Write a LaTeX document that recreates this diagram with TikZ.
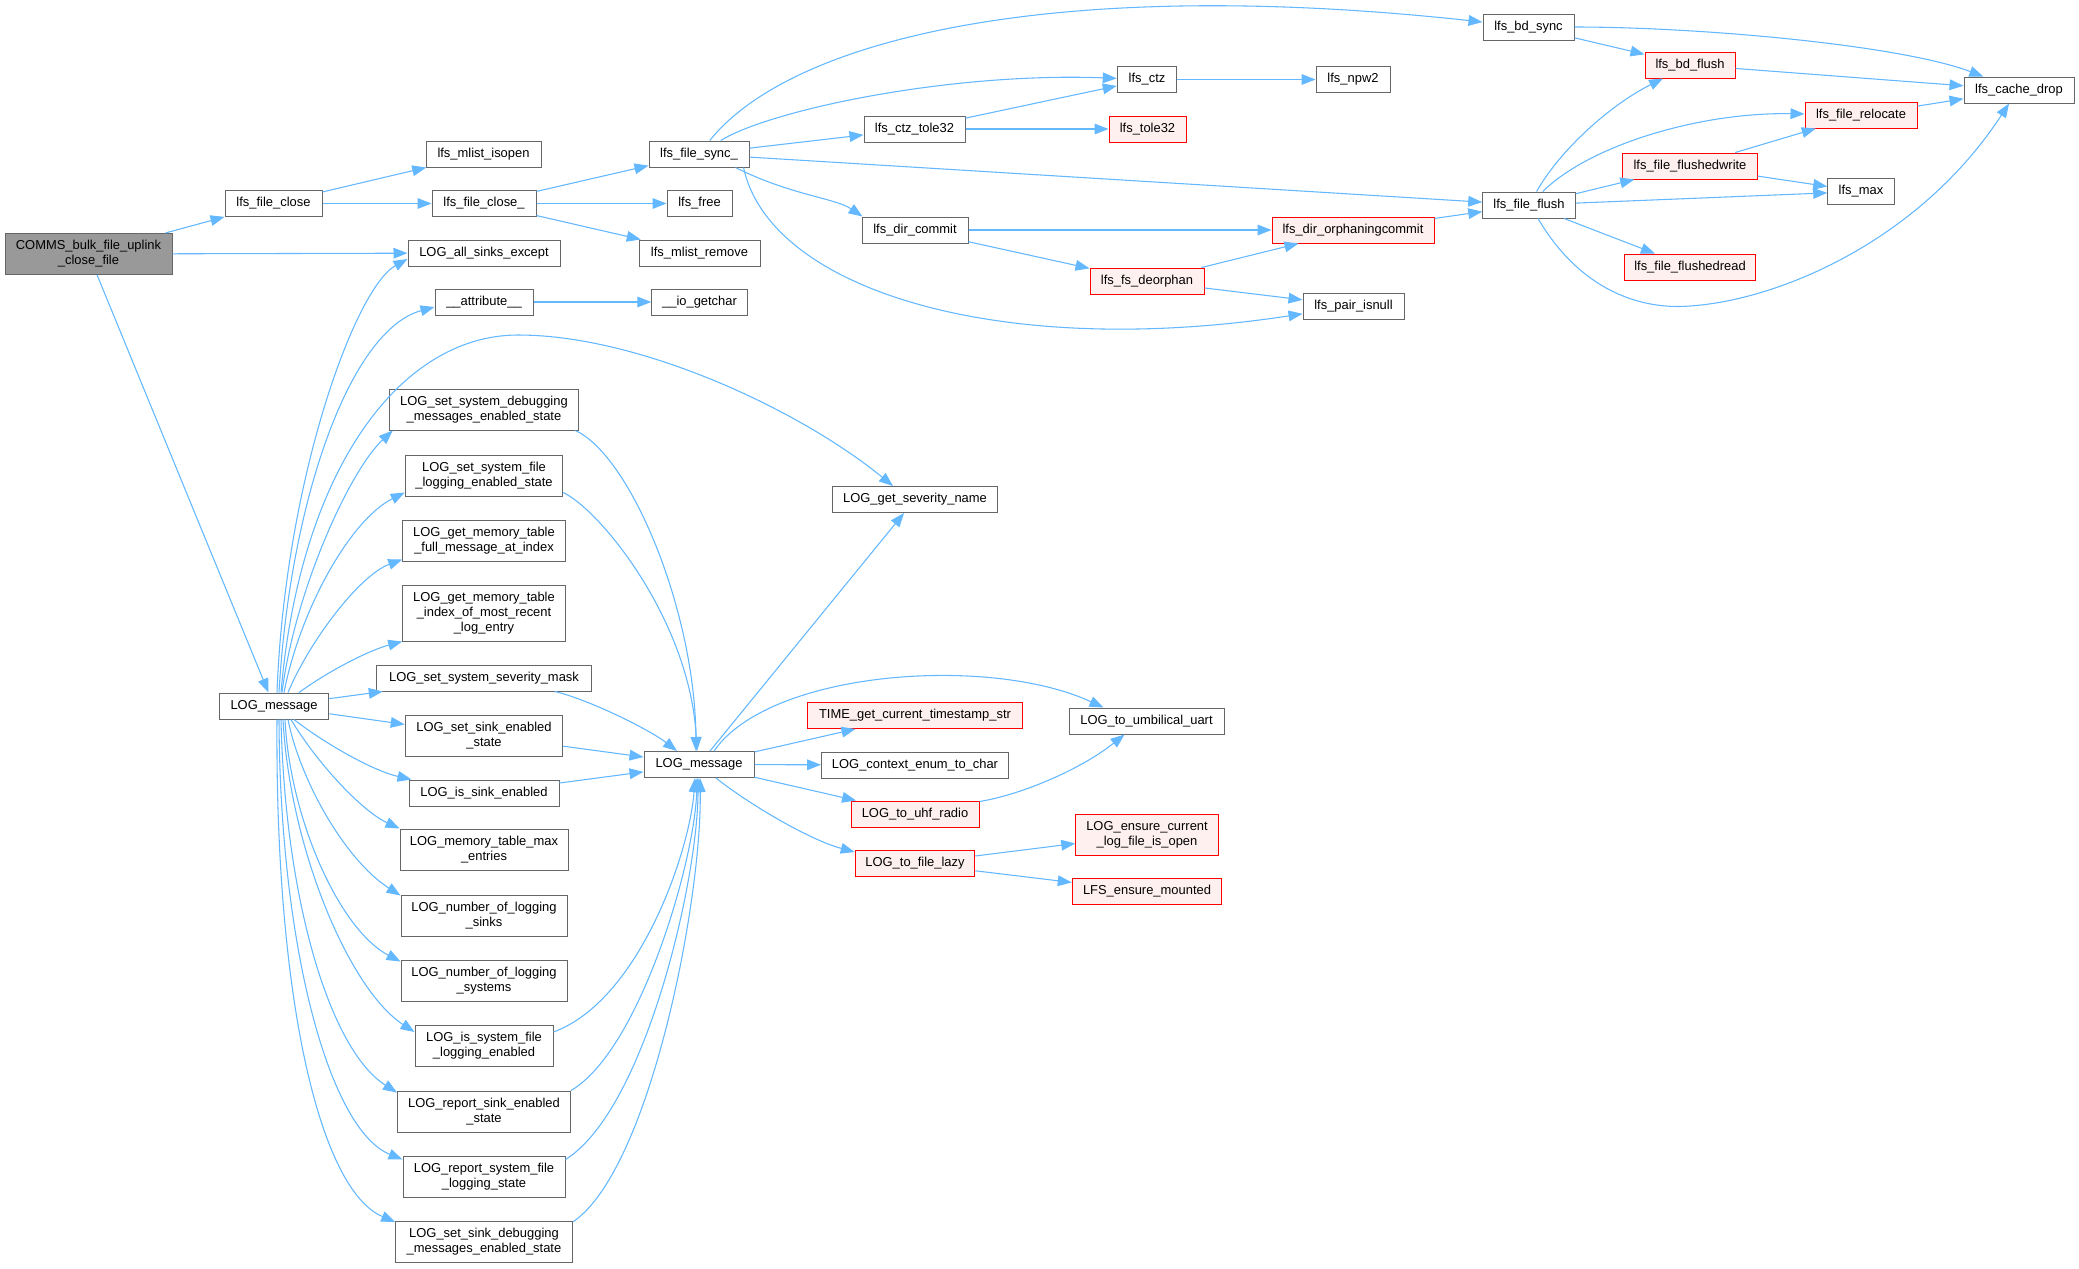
\documentclass[tikz,border=0pt]{standalone}
\usepackage{fontspec}
\setmainfont{Liberation Sans}
\usetikzlibrary{arrows.meta}
\definecolor{edgec}{HTML}{63B8FF}
\definecolor{bordc}{HTML}{666666}
\definecolor{redb}{HTML}{FF0000}
\definecolor{redf}{HTML}{FFF0F0}
\definecolor{rootf}{HTML}{999999}
\begin{document}
\begin{tikzpicture}[x=0.75pt,y=-0.75pt,
  nb/.style={draw=bordc, fill=white, line width=0.75pt, inner sep=0pt, minimum height=19.5pt,
             font=\fontsize{9.7pt}{11.25pt}\selectfont, align=center},
  rn/.style={nb, draw=redb, fill=redf},
  root/.style={nb, fill=rootf},
  wd/.style={minimum width=#1*0.75pt},
  two/.style={minimum height=30.75pt},
  three/.style={minimum height=42pt},
  e/.style={draw=edgec, line width=0.8pt, -{Triangle[length=10.5pt,width=8pt]}},
]
\useasboundingbox (0,0) rectangle (2079,1268);
\fill[white] (0,0) rectangle (2079,1268);

% ---------- nodes ----------
\node[root, wd=167, two] (comms) at (88.5,254) {COMMS\_bulk\_file\_uplink\\\_close\_file};
\node[nb, wd=97] (fclose) at (273.5,203.5) {lfs\_file\_close};
\node[nb, wd=115] (isopen) at (483.5,154) {lfs\_mlist\_isopen};
\node[nb, wd=104] (fcloseu) at (484,203.5) {lfs\_file\_close\_};
\node[nb, wd=152] (allsinks) at (484,253) {LOG\_all\_sinks\_except};
\node[nb, wd=98] (attr) at (484,302) {\_\_attribute\_\_};
\node[nb, wd=100] (sync) at (699,154) {lfs\_file\_sync\_};
\node[nb, wd=65] (free) at (699.5,203.5) {lfs\_free};
\node[nb, wd=121] (mremove) at (699.5,253) {lfs\_mlist\_remove};
\node[nb, wd=95.5] (iogetchar) at (699.5,302) {\_\_io\_getchar};
\node[nb, wd=59.5] (ctz) at (1147,79.5) {lfs\_ctz};
\node[nb, wd=74] (npw2) at (1353,79.5) {lfs\_npw2};
\node[nb, wd=101] (ctztole) at (914.5,129) {lfs\_ctz\_tole32};
\node[rn, wd=77] (tole32) at (1147.5,129) {lfs\_tole32};
\node[nb, wd=106] (dircommit) at (915,230) {lfs\_dir\_commit};
\node[rn, wd=162] (orphan) at (1353,230) {lfs\_dir\_orphaningcommit};
\node[rn, wd=114] (deorphan) at (1147,281) {lfs\_fs\_deorphan};
\node[nb, wd=101] (pairnull) at (1353.5,306) {lfs\_pair\_isnull};
\node[nb, wd=91] (bdsync) at (1528.5,27) {lfs\_bd\_sync};
\node[rn, wd=90] (bdflush) at (1690,65) {lfs\_bd\_flush};
\node[nb, wd=110] (cachedrop) at (2019,90) {lfs\_cache\_drop};
\node[rn, wd=112] (relocate) at (1861,115) {lfs\_file\_relocate};
\node[rn, wd=134.5] (fwrite) at (1690,166) {lfs\_file\_flushedwrite};
\node[nb, wd=66.5] (lmax) at (1861,191.5) {lfs\_max};
\node[nb, wd=92.5] (fflush) at (1529,205) {lfs\_file\_flush};
\node[rn, wd=131.5] (fread) at (1690,267) {lfs\_file\_flushedread};

\node[nb, wd=109.5] (logA) at (274,706) {LOG\_message};
\node[nb, wd=189.5, two] (ssdebug) at (484,409.5) {LOG\_set\_system\_debugging\\\_messages\_enabled\_state};
\node[nb, wd=157.5, two] (ssfile) at (484,475.5) {LOG\_set\_system\_file\\\_logging\_enabled\_state};
\node[nb, wd=162.5, two] (memfull) at (484,540.5) {LOG\_get\_memory\_table\\\_full\_message\_at\_index};
\node[nb, wd=162.5, three] (memidx) at (484,613) {LOG\_get\_memory\_table\\\_index\_of\_most\_recent\\\_log\_entry};
\node[nb, wd=215] (sevmask) at (484,678) {LOG\_set\_system\_severity\_mask};
\node[nb, wd=157.5, two] (sinken) at (484,735.5) {LOG\_set\_sink\_enabled\\\_state};
\node[nb, wd=150] (issink) at (484,793) {LOG\_is\_sink\_enabled};
\node[nb, wd=168, two] (memmax) at (484,849.5) {LOG\_memory\_table\_max\\\_entries};
\node[nb, wd=166, two] (nsinks) at (484,915.5) {LOG\_number\_of\_logging\\\_sinks};
\node[nb, wd=166, two] (nsystems) at (484,980.5) {LOG\_number\_of\_logging\\\_systems};
\node[nb, wd=138, two] (issysfile) at (484,1046) {LOG\_is\_system\_file\\\_logging\_enabled};
\node[nb, wd=173, two] (repsink) at (484,1111.5) {LOG\_report\_sink\_enabled\\\_state};
\node[nb, wd=162, two] (repsysfile) at (484,1176.5) {LOG\_report\_system\_file\\\_logging\_state};
\node[nb, wd=176.5, two] (sinkdebug) at (484,1242) {LOG\_set\_sink\_debugging\\\_messages\_enabled\_state};

\node[nb, wd=110] (logB) at (699,764.5) {LOG\_message};
\node[nb, wd=165.5] (sevname) at (915,499.5) {LOG\_get\_severity\_name};
\node[rn, wd=215] (timestr) at (915,715.5) {TIME\_get\_current\_timestamp\_str};
\node[nb, wd=155] (umbil) at (1146.5,721) {LOG\_to\_umbilical\_uart};
\node[nb, wd=187] (context) at (915,765) {LOG\_context\_enum\_to\_char};
\node[rn, wd=128] (uhf) at (915,814) {LOG\_to\_uhf\_radio};
\node[rn, wd=142.5, two] (ensure) at (1147,834.5) {LOG\_ensure\_current\\\_log\_file\_is\_open};
\node[rn, wd=119.5] (lazy) at (915,863.5) {LOG\_to\_file\_lazy};
\node[rn, wd=149.5] (mounted) at (1147,891.5) {LFS\_ensure\_mounted};

% ---------- straight edges ----------
\draw[e] (comms) -- (fclose);
\draw[e] (comms) -- (allsinks);
\draw[e] (comms) -- (logA);
\draw[e] (fclose) -- (isopen);
\draw[e] (fclose) -- (fcloseu);
\draw[e] (fcloseu) -- (sync);
\draw[e] (fcloseu) -- (free);
\draw[e] (fcloseu) -- (mremove);
\draw[e] (sync) -- (ctztole);
\draw[e] (sync) -- (fflush);
\draw[e] (ctz) -- (npw2);
\draw[e] (ctztole) -- (ctz);
\draw[e] (ctztole) -- (tole32);
\draw[e] (dircommit) -- (orphan);
\draw[e] (dircommit) -- (deorphan);
\draw[e] (deorphan) -- (orphan);
\draw[e] (deorphan) -- (pairnull);
\draw[e] (orphan) -- (fflush);
\draw[e] (bdsync) -- (bdflush);
\draw[e] (bdflush) -- (cachedrop);
\draw[e] (fflush) -- (fwrite);
\draw[e] (fflush) -- (lmax);
\draw[e] (fflush) -- (fread);
\draw[e] (relocate) -- (cachedrop);
\draw[e] (fwrite) -- (relocate);
\draw[e] (fwrite) -- (lmax);
\draw[e] (attr) -- (iogetchar);
\draw[e] (logA) -- (sevmask);
\draw[e] (logA) -- (sinken);
\draw[e] (sinken) -- (logB);
\draw[e] (issink) -- (logB);
\draw[e] (logB) -- (sevname);
\draw[e] (logB) -- (timestr);
\draw[e] (logB) -- (context);
\draw[e] (logB) -- (uhf);
\draw[e] (lazy) -- (ensure);
\draw[e] (lazy) -- (mounted);

% ---------- curved edges (top) ----------
\draw[e] (sync) .. controls (790,40) and (1050,-25) .. (bdsync);
\draw[e] (sync) .. controls (770,110) and (950,72) .. (ctz);
\draw[e] ([shift={(-14,0)}]sync.south east) .. controls (790,195) and (835,198) .. ([shift={(1,0)}]dircommit.north west);
\draw[e] ([shift={(-6,0)}]sync.south east) .. controls (770,290) and (1000,360) .. (pairnull);
\draw[e] (bdsync) .. controls (1700,27) and (1900,45) .. (cachedrop);
\draw[e] (fflush) .. controls (1560,150) and (1610,105) .. (bdflush);
\draw[e] (fflush) .. controls (1590,145) and (1700,112) .. (relocate);
\draw[e] ([shift={(9,0)}]fflush.south) .. controls (1580,290) and (1640,310) .. (1690,306)
          .. controls (1780,300) and (1920,240) .. ([shift={(-10,0)}]cachedrop.south);

% ---------- curved edges (LOG fan) ----------
\draw[e] ([shift={(3,0)}]logA.north) .. controls (285,480) and (355,288) .. ([shift={(0,6)}]allsinks.west);
\draw[e] ([shift={(5,0)}]logA.north) .. controls (290,500) and (350,330) .. ([shift={(0,5)}]attr.west);
\draw[e] ([shift={(7,0)}]logA.north) .. controls (300,470) and (400,335) .. (518,335)
          .. controls (640,335) and (800,410) .. ([shift={(-22,0)}]sevname.north);
\draw[e] ([shift={(8,0)}]logA.north) .. controls (295,590) and (350,470) .. ([shift={(4,0)}]ssdebug.south west);
\draw[e] ([shift={(10,0)}]logA.north) .. controls (300,610) and (350,520) .. ([shift={(0,-4)}]ssfile.south west);
\draw[e] ([shift={(14,0)}]logA.north) .. controls (310,640) and (360,575) .. ([shift={(0,-2)}]memfull.south west);
\draw[e] ([shift={(25,0)}]logA.north) .. controls (330,670) and (370,650) .. (memidx.south west);

\draw[e] ([shift={(20,0)}]logA.south) .. controls (320,740) and (370,770) .. ([shift={(3,0)}]issink.north west);
\draw[e] ([shift={(17,0)}]logA.south) .. controls (315,760) and (360,810) .. (memmax.north west);
\draw[e] ([shift={(14,0)}]logA.south) .. controls (300,780) and (345,860) .. ([shift={(0,1)}]nsinks.north west);
\draw[e] ([shift={(11,0)}]logA.south) .. controls (290,820) and (340,930) .. ([shift={(0,2)}]nsystems.north west);
\draw[e] ([shift={(9,0)}]logA.south) .. controls (290,850) and (350,990) .. ([shift={(0,7)}]issysfile.north west);
\draw[e] ([shift={(7,0)}]logA.south) .. controls (285,900) and (330,1050) .. ([shift={(0,2)}]repsink.north west);
\draw[e] ([shift={(5,0)}]logA.south) .. controls (280,950) and (330,1130) .. ([shift={(0,4)}]repsysfile.north west);
\draw[e] ([shift={(3,0)}]logA.south) .. controls (275,1000) and (320,1190) .. ([shift={(0,1)}]sinkdebug.north west);

% ---------- into second LOG_message ----------
\draw[e] ([shift={(-4,0)}]ssdebug.south east) .. controls (630,455) and (695,610) .. ([shift={(-3,0)}]logB.north);
\draw[e] ([shift={(0,-4)}]ssfile.south east) .. controls (600,510) and (690,620) .. ([shift={(-2,0)}]logB.north);
\draw[e] ([shift={(-37,0)}]sevmask.south east) .. controls (590,700) and (650,730) .. ([shift={(-22,0)}]logB.north);
\draw[e] ([shift={(0,7)}]issysfile.north east) .. controls (640,1000) and (690,850) .. ([shift={(-4,0)}]logB.south);
\draw[e] (repsink.north east) .. controls (640,1050) and (695,860) .. ([shift={(-2,0)}]logB.south);
\draw[e] ([shift={(0,4)}]repsysfile.north east) .. controls (645,1110) and (698,880) .. ([shift={(-1,0)}]logB.south);
\draw[e] ([shift={(0,1)}]sinkdebug.north east) .. controls (650,1170) and (702,900) .. ([shift={(1,0)}]logB.south);

% ---------- out of second LOG_message ----------
\draw[e] ([shift={(15,0)}]logB.north) .. controls (770,670) and (990,655) .. ([shift={(-43,0)}]umbil.north);
\draw[e] ([shift={(17,0)}]logB.south) .. controls (750,805) and (810,840) .. ([shift={(0,2)}]lazy.north west);
\draw[e] ([shift={(0,1)}]uhf.north east) .. controls (1020,795) and (1080,770) .. ([shift={(-22,0)}]umbil.south);
\end{tikzpicture}
\end{document}
